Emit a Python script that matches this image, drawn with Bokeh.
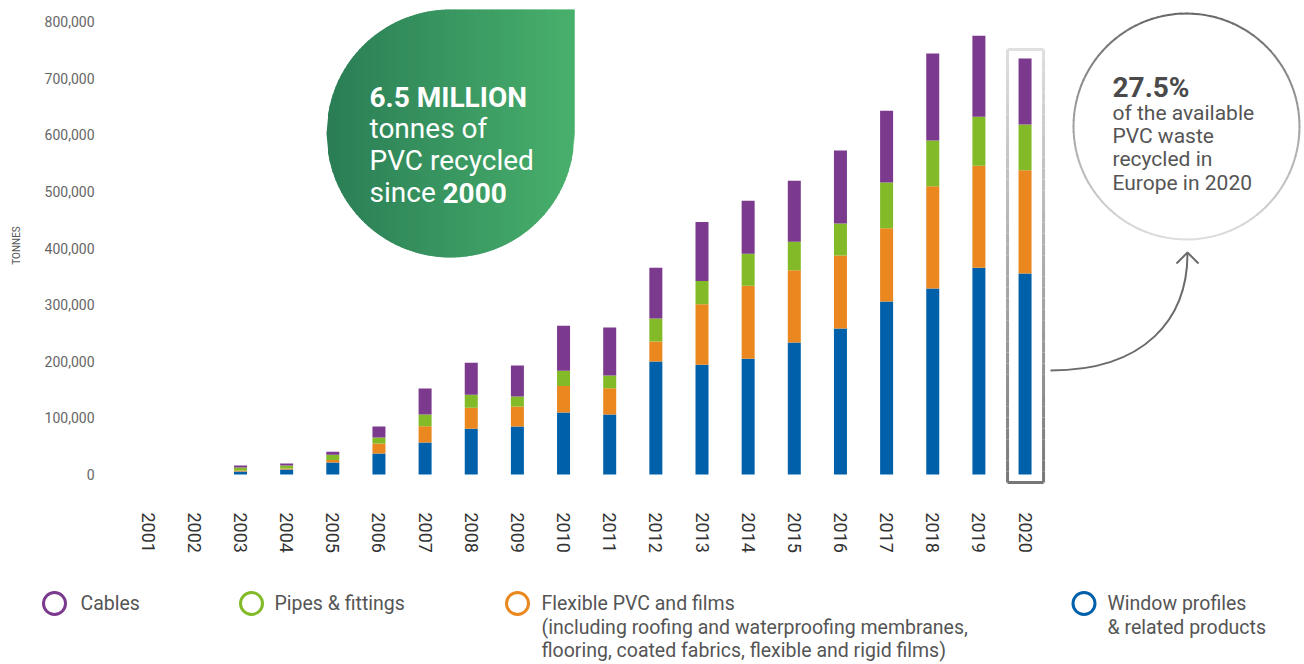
import math
from bokeh.plotting import figure
from bokeh.layouts import column
from bokeh.models import Range1d, FixedTicker, NumeralTickFormatter, ColumnDataSource
from bokeh.core.properties import value
from bokeh.embed import file_html
from bokeh.resources import INLINE

# ---------------- data ----------------
years = list(range(2001, 2021))
window_profiles = [0, 0, 5300, 8800, 21000, 37000, 56500, 81000, 85000, 109500, 106000,
                   199500, 194000, 204500, 233000, 258000, 305500, 328500, 365500, 355000]
flexible_pvc = [0, 0, 1800, 1800, 4700, 17700, 28800, 37000, 35000, 47000, 46500,
                35300, 107000, 129000, 127700, 129000, 129500, 180700, 180000, 182500]
pipes_fittings = [0, 0, 5300, 5300, 9400, 10600, 20600, 23000, 17700, 27000, 22400,
                  40600, 41000, 56500, 50700, 56500, 80700, 80700, 86600, 80700]
cables = [0, 0, 3500, 3500, 5300, 19400, 46000, 56500, 55000, 79500, 84800,
          90000, 104000, 93600, 107800, 129000, 127000, 153700, 143000, 116600]

series_keys = ["window", "flexible", "pipes", "cables"]
series_colors = ["#0061aa", "#ea871f", "#82bb27", "#7b3a8d"]
legend_order = ["cables", "pipes", "flexible", "window"]
legend_labels = {
    "cables": "Cables",
    "pipes": "Pipes & fittings",
    "flexible": "Flexible PVC and films\n(including roofing and waterproofing membranes,\nflooring, coated fabrics, flexible and rigid films)",
    "window": "Window profiles\n& related products",
}
y_ticks = [0, 100000, 200000, 300000, 400000, 500000, 600000, 700000, 800000]
y_title = "TONNES"
blob_lines = ["6.5 MILLION", "tonnes of", "PVC recycled", "since "]
blob_bold_tail = "2000"
circle_head = "27.5%"
circle_lines = ["of the available", "PVC waste", "recycled in", "Europe in 2020"]

# ---------------- layout helpers (page pixels -> data) ----------------
W = 1304
H1 = 570
H2 = 94
FRAME_LEFT = 100
FRAME_BOTTOM = 490
PX_YEAR = 46.15
X0_PX = 147.7      # page x of first year
ZERO_PY = 474.0    # page y of value 0
T_PER_PX = 100000 / 56.6


def dx(px):
    return years[0] + (px - X0_PX) / PX_YEAR


def dy(py):
    return (ZERO_PY - py) * T_PER_PX


FONT = "Roboto"

p = figure(width=W, height=H1, output_backend="svg", toolbar_location=None,
           x_range=Range1d(dx(FRAME_LEFT), dx(W)), y_range=Range1d(dy(FRAME_BOTTOM), dy(0)),
           min_border_left=FRAME_LEFT, min_border_right=0, min_border_top=0,
           min_border_bottom=H1 - FRAME_BOTTOM,
           outline_line_color=None, background_fill_color="white", border_fill_color="white")
p.grid.visible = False

# axes
p.yaxis.ticker = FixedTicker(ticks=y_ticks)
p.yaxis.formatter = NumeralTickFormatter(format="0,0")
p.yaxis.major_label_text_font = FONT
p.yaxis.major_label_text_font_size = "14px"
p.yaxis.major_label_text_color = "#666666"
p.yaxis.major_label_standoff = 6
p.yaxis.axis_label = y_title
p.yaxis.axis_label_text_font = FONT
p.yaxis.axis_label_text_font_size = "10px"
p.yaxis.axis_label_text_font_style = "normal"
p.yaxis.axis_label_text_color = "#555555"
p.yaxis.axis_label_standoff = 20
try:
    p.yaxis.major_label_text_baseline = "alphabetic"
except Exception:
    pass

p.xaxis.ticker = FixedTicker(ticks=years)
p.xaxis.formatter = NumeralTickFormatter(format="0")
p.xaxis.major_label_orientation = -math.pi / 2
p.xaxis.major_label_text_font = FONT
p.xaxis.major_label_text_font_size = "18px"
p.xaxis.major_label_text_color = "#333333"
p.xaxis.major_label_standoff = 22

for ax in (p.xaxis, p.yaxis):
    ax.axis_line_color = None
    ax.major_tick_line_color = None
    ax.minor_tick_line_color = None
    ax.major_tick_out = 0
    ax.major_tick_in = 0
    ax.minor_tick_out = 0

# bars
src = ColumnDataSource(dict(year=years, window=window_profiles, flexible=flexible_pvc,
                            pipes=pipes_fittings, cables=cables))
p.vbar_stack(series_keys, x="year", width=13 / PX_YEAR, source=src,
             fill_color=series_colors, line_color=None)


def lerp_color(c0, c1, t):
    return "#%02x%02x%02x" % tuple(int(round(a + (b - a) * t)) for a, b in zip(c0, c1))


# ---------------- green blob ----------------
bcx, bcy, br = 450.0, 133.0, 124.0


def blob_top(px):
    if px >= bcx:
        return bcy - br
    return bcy - math.sqrt(max(0.0, br * br - (px - bcx) ** 2))


def blob_bot(px):
    return bcy + math.sqrt(max(0.0, br * br - (px - bcx) ** 2))


bxs, bys, bcols = [], [], []
step = 1.5
x = bcx - br
while x < bcx + br:
    x1 = min(x + step + 0.7, bcx + br)
    pts_x = [x, x1, x1, x]
    pts_y = [blob_top(x), blob_top(x1), blob_bot(x1), blob_bot(x)]
    bxs.append([dx(v) for v in pts_x])
    bys.append([dy(v) for v in pts_y])
    t = ((x + x1) / 2 - (bcx - br)) / (2 * br)
    bcols.append(lerp_color((42, 125, 85), (72, 176, 108), t))
    x += step
p.patches(xs=bxs, ys=bys, fill_color=bcols, line_color=None)

blob_baselines = [97, 128, 160, 192]
for i, (txt, by) in enumerate(zip(blob_lines, blob_baselines)):
    p.text(x=[dx(369)], y=[dy(by)], text=[txt], text_font=value(FONT), text_font_size="28px",
           text_font_style="bold" if i == 0 else "normal", text_color="#ffffff",
           text_align="left", text_baseline="alphabetic")
p.text(x=[dx(442)], y=[dy(192)], text=[blob_bold_tail], text_font=value(FONT), text_font_size="28px",
       text_font_style="bold", text_color="#ffffff", text_align="left", text_baseline="alphabetic")

# ---------------- highlight box around last year ----------------
last_px = X0_PX + (years[-1] - years[0]) * PX_YEAR
box_l, box_r, box_t, box_b = last_px - 17.5, last_px + 18.5, 49.0, 482.0
seg_x, seg_y, seg_c = [], [], []
n = 40
for side in (box_l, box_r):
    for k in range(n):
        y0 = box_t + (box_b - box_t) * k / n
        y1 = box_t + (box_b - box_t) * (k + 1) / n
        seg_x.append([dx(side), dx(side)])
        seg_y.append([dy(y0), dy(y1)])
        seg_c.append(lerp_color((222, 222, 222), (120, 120, 120), (k + 0.5) / n))
seg_x.append([dx(box_l), dx(box_r)]); seg_y.append([dy(box_t), dy(box_t)]); seg_c.append("#e0e0e0")
seg_x.append([dx(box_l), dx(box_r)]); seg_y.append([dy(box_b), dy(box_b)]); seg_c.append("#777777")
p.multi_line(xs=seg_x, ys=seg_y, line_color=seg_c, line_width=3)

# ---------------- grey circle with text ----------------
ccx, ccy, cr = 1186.0, 126.0, 113.0
cxs, cys, ccols = [], [], []
m = 120
for k in range(m):
    a0 = 2 * math.pi * k / m
    a1 = 2 * math.pi * (k + 1.15) / m
    px0, py0 = ccx + cr * math.cos(a0), ccy + cr * math.sin(a0)
    px1, py1 = ccx + cr * math.cos(a1), ccy + cr * math.sin(a1)
    cxs.append([dx(px0), dx(px1)])
    cys.append([dy(py0), dy(py1)])
    t = (((py0 + py1) / 2) - (ccy - cr)) / (2 * cr)
    ccols.append(lerp_color((105, 105, 105), (222, 222, 222), t))
p.multi_line(xs=cxs, ys=cys, line_color=ccols, line_width=2)

p.text(x=[dx(1112)], y=[dy(87)], text=[circle_head], text_font=value(FONT), text_font_size="28px",
       text_font_style="bold", text_color="#4a4a4a", text_align="left", text_baseline="alphabetic")
for txt, by in zip(circle_lines, [112, 135, 158, 182]):
    p.text(x=[dx(1112)], y=[dy(by)], text=[txt], text_font=value(FONT), text_font_size="21px",
           text_color="#555555", text_align="left", text_baseline="alphabetic")

# ---------------- curved arrow ----------------
p.bezier(x0=[dx(1050)], y0=[dy(370)], x1=[dx(1187)], y1=[dy(253)],
         cx0=[dx(1145)], cy0=[dy(370)], cx1=[dx(1187)], cy1=[dy(318)],
         line_color="#6b6b6b", line_width=2)
p.line(x=[dx(1176), dx(1187), dx(1198)], y=[dy(263), dy(252), dy(263)],
       line_color="#6b6b6b", line_width=2)

# ---------------- legend figure ----------------
lg = figure(width=W, height=H2, output_backend="svg", toolbar_location=None,
            x_range=Range1d(0, W), y_range=Range1d(H1 + H2, H1),
            x_axis_location=None, y_axis_location=None,
            min_border_left=0, min_border_right=0, min_border_top=0, min_border_bottom=0,
            outline_line_color=None, background_fill_color="white", border_fill_color="white")
lg.grid.visible = False
for fig in (p, lg):
    try:
        fig.frame_align = False
    except Exception:
        pass

legend_marker_px = [54, 251, 517, 1083.5]
legend_text_px = [80, 274, 541, 1107]
legend_row_py = 603
color_of = dict(zip(series_keys, series_colors))
lg.scatter(x=legend_marker_px, y=[legend_row_py] * 4, size=22, marker="circle",
           fill_color=None, line_color=[color_of[k] for k in legend_order], line_width=3)
for key, tx in zip(legend_order, legend_text_px):
    for j, line in enumerate(legend_labels[key].split("\n")):
        lg.text(x=[tx], y=[legend_row_py + j * 23.5], text=[line], text_font=value(FONT),
                text_font_size="19.5px", text_color="#555555", text_align="left",
                text_baseline="middle")

layout = column(p, lg, spacing=0)
open("out.html", "w").write(file_html(layout, INLINE))
